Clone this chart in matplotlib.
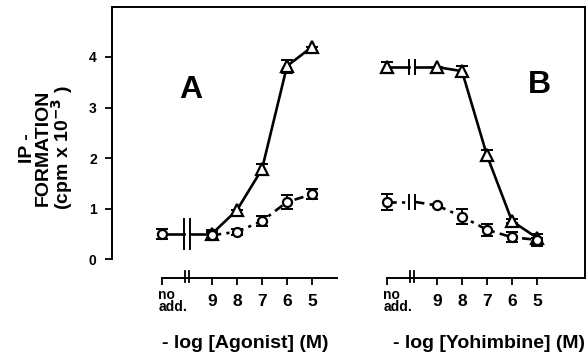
import numpy as np
from matplotlib import pyplot as plt

plt.rcParams['font.family'] = ['Liberation Sans', 'DejaVu Sans']
plt.rcParams['font.weight'] = 'bold'

# x layout: "no add." at 0, axis break at 1, concentrations 9..5 at 2..6
conc_labels = ['9', '8', '7', '6', '5']
conc_pos = [2, 3, 4, 5, 6]
noadd_pos = 0
break_pos = 1
panel_b_shift = 9

# Panel A (agonist)
a_noadd = 0.50
a_noadd_err = 0.10
a_tri = [0.50, 0.97, 1.78, 3.82, 4.20]
a_tri_err = [0.08, 0.0, 0.10, 0.13, 0.0]
a_circ = [0.47, 0.54, 0.75, 1.13, 1.28]
a_circ_err = [0.06, 0.06, 0.10, 0.13, 0.10]

# Panel B (yohimbine)
b_tri_noadd = 3.80
b_tri_noadd_err = 0.10
b_tri = [3.80, 3.72, 2.05, 0.75, 0.42]
b_tri_err = [0.0, 0.10, 0.10, 0.04, 0.0]
b_circ_noadd = 1.13
b_circ_noadd_err = 0.15
b_circ = [1.06, 0.84, 0.58, 0.43, 0.38]
b_circ_err = [0.0, 0.15, 0.12, 0.10, 0.12]

fig = plt.figure(figsize=(5.87, 3.6), dpi=100)
ax = fig.add_axes([112/587, 1-278/360, 473/587, 271/360])
ax.set_xlim(-2.0, 16.92)
ax.set_ylim(-0.376, 4.99)

lw = 1.9
mk = dict(markerfacecolor='white', markeredgecolor='black', markeredgewidth=1.6, zorder=3)
eb = dict(ecolor='black', elinewidth=1.3, capsize=4, capthick=1.4, zorder=2)
dash = (0, (3.5, 2, 1.2, 2))


def series(x, y, err, marker, ls, ms):
    ax.errorbar(x, y, yerr=err, fmt='none', **eb)
    ax.plot(x, y, color='black', lw=lw, ls=ls, zorder=1)
    ax.plot(x, y, ls='none', marker=marker, markersize=ms, **mk)


def broken_link(x0, y0, x1, y1, ls, h):
    g = 0.13
    ax.plot([x0, break_pos + x0 - g - noadd_pos], [y0, y0], color='black', lw=lw, ls=ls, zorder=1)
    ax.plot([break_pos + x0 + g - noadd_pos, x1], [y0, y1], color='black', lw=lw, ls=ls, zorder=1)
    for dx in (-g, g):
        xb = break_pos + x0 - noadd_pos + dx
        ax.plot([xb, xb], [y0 - h, y0 + h], color='black', lw=1.4, zorder=1)


# Panel A
xa = np.array(conc_pos)
series(xa, a_tri, a_tri_err, '^', '-', 8)
series(xa, a_circ, a_circ_err, 'o', dash, 6.5)
broken_link(noadd_pos, a_noadd, xa[0], a_tri[0], '-', 0.3)
ax.errorbar([noadd_pos], [a_noadd], yerr=[a_noadd_err], fmt='none', **eb)
ax.plot([noadd_pos], [a_noadd], marker='o', markersize=6.5, **mk)

# Panel B
xb = xa + panel_b_shift
nb = noadd_pos + panel_b_shift
series(xb, b_tri, b_tri_err, '^', '-', 8)
series(xb, b_circ, b_circ_err, 'o', dash, 6.5)
broken_link(nb, b_tri_noadd, xb[0], b_tri[0], '-', 0.14)
broken_link(nb, b_circ_noadd, xb[0], b_circ[0], dash, 0.13)
ax.errorbar([nb], [b_tri_noadd], yerr=[b_tri_noadd_err], fmt='none', **eb)
ax.plot([nb], [b_tri_noadd], marker='^', markersize=8, **mk)
ax.errorbar([nb], [b_circ_noadd], yerr=[b_circ_noadd_err], fmt='none', **eb)
ax.plot([nb], [b_circ_noadd], marker='o', markersize=6.5, **mk)

# frame: y axis, top, right; bottom drawn as two broken x axes
for s in ['left', 'top', 'right']:
    ax.spines[s].set_linewidth(1.4)
ax.spines['bottom'].set_visible(False)
ax.spines['left'].set_bounds(0, 4.99)
ax.set_yticks([0, 1, 2, 3, 4])
ax.set_yticklabels(['0', '1', '2', '3', '4'], fontsize=10, fontweight='bold')
ax.tick_params(axis='y', direction='out', length=5, width=1.3, pad=6)

tick_x = [noadd_pos] + conc_pos + [nb] + list(xb)
ax.set_xticks(tick_x)
ax.set_xticklabels([''] * len(tick_x))
ax.tick_params(axis='x', direction='out', length=5, width=1.3)

trans = ax.get_xaxis_transform()
for x0, x1 in [(noadd_pos, 7), (nb, 16.92)]:
    ax.plot([x0, x1], [0, 0], color='black', lw=1.4, transform=trans, clip_on=False)
    for dx in (-0.08, 0.08):
        ax.plot([x0 + break_pos + dx] * 2, [-0.015, 0.025], color='black', lw=1.3,
                transform=trans, clip_on=False)
    for p, lab in zip(conc_pos, conc_labels):
        ax.text(x0 + p, -0.085, lab, transform=trans, ha='center', va='center',
                fontsize=12.5, fontweight='bold')
    ax.text(x0 - 0.15, -0.085, 'no\nadd.', transform=trans, ha='left', va='center',
            fontsize=10, fontweight='bold', linespacing=0.85)

fig.text(245/587, 1-343/360, '- log [Agonist] (M)', ha='center', va='center',
         fontsize=14, fontweight='bold')
fig.text(489/587, 1-343/360, '- log [Yohimbine] (M)', ha='center', va='center',
         fontsize=14, fontweight='bold')

fig.text(47/587, 1-148/360, 'IP -\nFORMATION\n(cpm x 10$^{\\mathbf{-3}}$ )', rotation=90,
         ha='center', va='center', multialignment='center', fontsize=14,
         fontweight='bold', linespacing=0.88)

ax.text(1.15, 3.35, 'A', ha='center', va='center', fontsize=23, fontweight='bold')
ax.text(15.1, 3.45, 'B', ha='center', va='center', fontsize=23, fontweight='bold')

fig.savefig('out.png', dpi=100)
